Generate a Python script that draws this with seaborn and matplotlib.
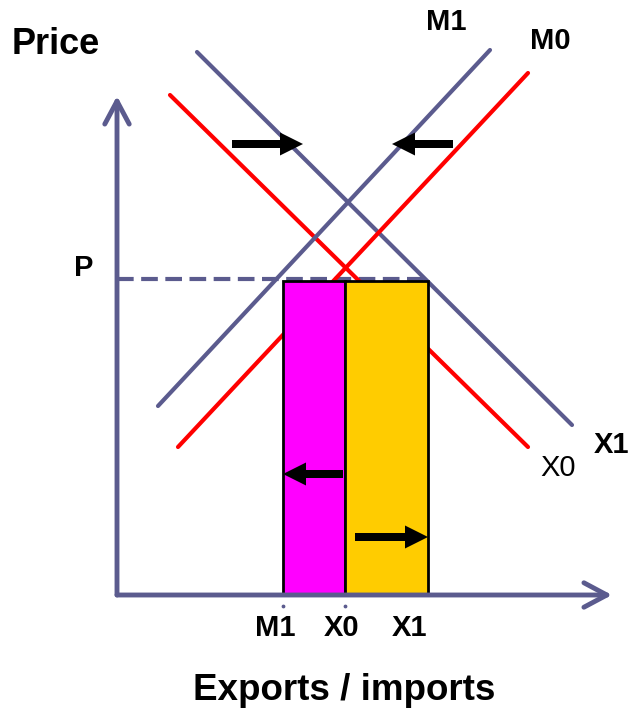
import matplotlib
matplotlib.use("Agg")
import matplotlib.pyplot as plt
import seaborn as sns
import pandas as pd

# ---- data (origin = axis corner) ----
curves = ["X1", "X0", "M1", "M0"]
curve_x0 = [80, 53, 41, 61]
curve_y0 = [543, 500, 189, 148]
curve_x1 = [455, 411, 373, 411]
curve_y1 = [170, 148, 545, 522]
curve_colors = ["#5B5B8E", "#FF0000", "#5B5B8E", "#FF0000"]

price_level = 314
qty_labels = ["M1", "X0", "X1"]
qty_values = [166, 228, 311]
bar_colors = ["#FF00FF", "#FFCC00"]

# shift arrows
arrow_start_x = [115, 336, 226, 238]
arrow_end_x = [186, 275, 166, 311]
arrow_y = [451, 451, 121, 58]

sns.set_theme(style="white")
plt.rcParams['font.family'] = ['Liberation Sans', 'DejaVu Sans']
plt.rcParams['text.color'] = 'black'

fig = plt.figure(figsize=(6.34, 7.09), dpi=100)
ax = fig.add_axes([0, 0, 1, 1])
ax.set_xlim(-117, 517)
ax.set_ylim(-114, 595)
ax.axis("off")

axis_col = "#5B5B8E"

# bars (imports fall, exports rise)
ax.bar(qty_values[0], price_level, width=qty_values[1] - qty_values[0], align="edge",
       color=bar_colors[0], edgecolor="black", linewidth=2, zorder=3)
ax.bar(qty_values[1], price_level, width=qty_values[2] - qty_values[1], align="edge",
       color=bar_colors[1], edgecolor="black", linewidth=2, zorder=3)

# curves
rows = []
for n, a, b, c, d in zip(curves, curve_x0, curve_y0, curve_x1, curve_y1):
    rows.append({"curve": n, "x": a, "y": b})
    rows.append({"curve": n, "x": c, "y": d})
df = pd.DataFrame(rows)
sns.lineplot(data=df, x="x", y="y", hue="curve", units="curve", estimator=None,
             palette=dict(zip(curves, curve_colors)), linewidth=3, legend=False,
             sort=False, ax=ax, zorder=2)

# price dashed line
ax.plot([0, qty_values[2]], [price_level + 2, price_level + 2], color=axis_col,
        lw=3, ls=(0, (4, 1.8)), zorder=1)

# axes with arrows
ax.annotate("", xy=(0, 499), xytext=(0, 0),
            arrowprops=dict(arrowstyle="->,head_length=0.75,head_width=0.4", lw=3.5,
                            color=axis_col, mutation_scale=22, shrinkA=0, shrinkB=0,
                            capstyle="round", joinstyle="round"))
ax.annotate("", xy=(495, 0), xytext=(0, 0),
            arrowprops=dict(arrowstyle="->,head_length=0.75,head_width=0.4", lw=3.5,
                            color=axis_col, mutation_scale=22, shrinkA=0, shrinkB=0,
                            capstyle="round", joinstyle="round"))

# small tick dots under M1 and X0
ax.scatter(qty_values[:2], [-11, -11], s=3, color=axis_col, zorder=4)

# shift arrows
for sx, ex, y in zip(arrow_start_x, arrow_end_x, arrow_y):
    ax.arrow(sx, y, ex - sx, 0, width=8, head_width=23, head_length=23,
             length_includes_head=True, color="black", lw=0, zorder=5)

# texts
ax.text(-61, 550, "Price", fontsize=26, fontweight="bold", ha="center", va="center")
ax.text(-33, 327, "P", fontsize=21, fontweight="bold", ha="center", va="center")
ax.text(329, 573, "M1", fontsize=21, fontweight="bold", ha="center", va="center")
ax.text(433, 554, "M0", fontsize=21, fontweight="bold", ha="center", va="center")
ax.text(495, 150, "X1", fontsize=21, fontweight="bold", ha="center", va="center")
ax.text(441, 127, "X0", fontsize=21, ha="center", va="center")
for lab, v in zip(qty_labels, [158, 225, 292]):
    ax.text(v, -33, lab, fontsize=21, fontweight="bold", ha="center", va="center")
ax.text(227, -95, "Exports / imports", fontsize=26.5, fontweight="bold", ha="center", va="center")

fig.savefig("out.png", dpi=100)
